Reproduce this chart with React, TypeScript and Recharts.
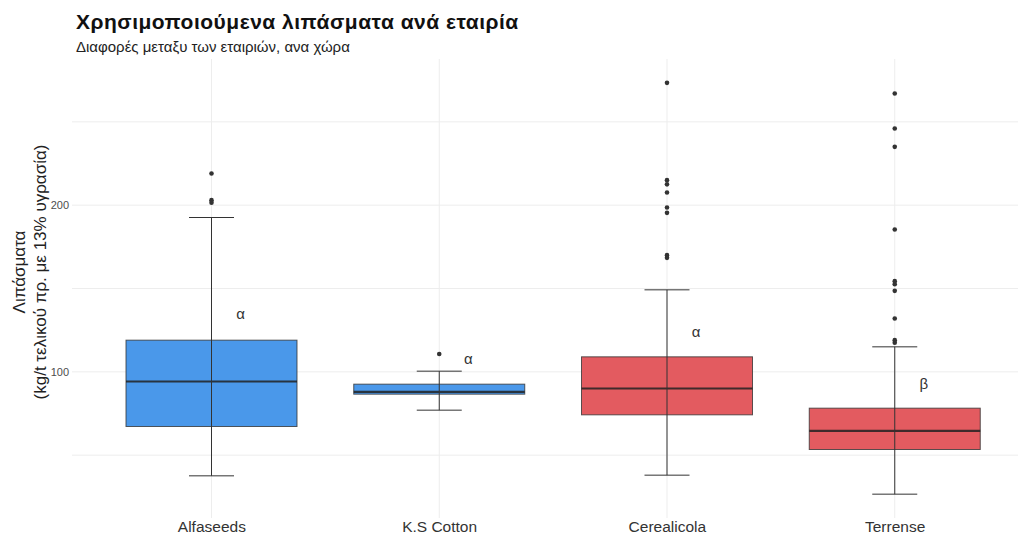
import { ComposedChart, Bar, XAxis, YAxis, CartesianGrid } from 'recharts';

// ---------------------------------------------------------------------------
// Data
// ---------------------------------------------------------------------------

const companies = ['Alfaseeds', 'K.S Cotton', 'Cerealicola', 'Terrense'];
const whiskerLow = [37.6, 77, 38, 26.6];
const q1 = [67.2, 86.6, 74.2, 53.4];
const median = [94.2, 88, 90, 64.6];
const q3 = [119, 92.6, 109, 78.2];
const whiskerHigh = [192.6, 100.4, 149.2, 115];
const outliers = [
  [219, 203, 201.5],
  [110.7],
  [273.4, 215, 212.5, 207.6, 198.6, 195.4, 170, 168.4],
  [267, 246, 235, 185.4, 154.4, 152.6, 148.6, 132, 119, 117.5],
];
const letters = ['α', 'α', 'α', 'β'];
const letterValue = [134.6, 108, 124, 93];
const boxFills = ['#4A98EA', '#4A98EA', '#E35B60', '#E35B60'];

const yTicks = [100, 200];
const gridValues = [50, 100, 150, 200, 250];

const FONT = '"Liberation Sans", Arial, Helvetica, sans-serif';

interface BoxDatum {
  company: string;
  range: [number, number];
  low: number;
  q1: number;
  median: number;
  q3: number;
  high: number;
  outliers: number[];
  letter: string;
  letterValue: number;
  fill: string;
}

const data: BoxDatum[] = companies.map((company, i) => ({
  company,
  range: [whiskerLow[i], whiskerHigh[i]],
  low: whiskerLow[i],
  q1: q1[i],
  median: median[i],
  q3: q3[i],
  high: whiskerHigh[i],
  outliers: outliers[i],
  letter: letters[i],
  letterValue: letterValue[i],
  fill: boxFills[i],
}));

// ---------------------------------------------------------------------------
// Shapes
// ---------------------------------------------------------------------------

// the bar spans low..high whisker; other values are mapped linearly
// from the bar geometry (which comes from the y scale)
function BoxShape(props: any) {
  const { x, y, width, height, payload } = props;
  const d = payload as BoxDatum;
  const py = (v: number) => y + (height * (d.high - v)) / (d.high - d.low);
  const cx = x + width / 2;
  const cap = 22.5;

  return (
    <g>
      <rect
        x={x}
        y={py(d.q3)}
        width={width}
        height={py(d.q1) - py(d.q3)}
        fill={d.fill}
        stroke="#333"
        strokeOpacity={0.8}
        strokeWidth={1}
      />
      <line x1={x} x2={x + width} y1={py(d.median)} y2={py(d.median)} stroke="#222" strokeOpacity={0.85} strokeWidth={2.2} />
      <line x1={cx} x2={cx} y1={py(d.high)} y2={py(d.low)} stroke="#333" strokeWidth={1} />
      <line x1={cx - cap} x2={cx + cap} y1={py(d.high)} y2={py(d.high)} stroke="#333" strokeWidth={1} />
      <line x1={cx - cap} x2={cx + cap} y1={py(d.low)} y2={py(d.low)} stroke="#333" strokeWidth={1} />
      {d.outliers.map((v, i) => (
        <circle key={i} cx={cx} cy={py(v)} r={2.3} fill="#333" />
      ))}
      <text
        x={cx + 29}
        y={py(d.letterValue)}
        dy="0.35em"
        textAnchor="middle"
        fontSize={15}
        fontFamily={FONT}
        fill="#333"
      >
        {d.letter}
      </text>
    </g>
  );
}

// vertical grid line through each category centre
function CenterLine(props: any) {
  const { x, y, width, height } = props;
  const cx = x + width / 2;
  return <line x1={cx} x2={cx} y1={y} y2={y + height} stroke="#EDEDED" strokeWidth={1} />;
}

function XTick(props: any) {
  const { x, y, payload } = props;
  return (
    <text x={x} y={y} dy="0.71em" textAnchor="middle" fontSize={15.5} fontFamily={FONT} fill="#333">
      {payload.value}
    </text>
  );
}

function YTick(props: any) {
  const { x, y, payload } = props;
  return (
    <text x={x} y={y} dy="0.355em" textAnchor="end" fontSize={11} fontFamily={FONT} fill="#4D4D4D">
      {payload.value}
    </text>
  );
}

// ---------------------------------------------------------------------------
// Component
// ---------------------------------------------------------------------------

export default function App() {
  return (
    <div style={{ position: 'absolute', left: 0, top: 0, width: 1018, height: 536, background: '#fff' }}>
      <ComposedChart
        width={1018}
        height={536}
        data={data}
        margin={{ top: 59, right: 0, bottom: 0, left: 0 }}
      >
        <CartesianGrid
          stroke="#EDEDED"
          strokeWidth={1}
          horizontalValues={gridValues}
          vertical={false}
        />
        <XAxis
          dataKey="company"
          type="category"
          height={18}
          padding={{ left: 26, right: 9 }}
          axisLine={false}
          tickLine={false}
          tickSize={0}
          tickMargin={3}
          interval={0}
          tick={<XTick />}
        />
        <YAxis
          type="number"
          width={72}
          domain={[12.3, 287.7]}
          allowDataOverflow
          ticks={yTicks}
          axisLine={false}
          tickLine={false}
          tickSize={0}
          tickMargin={3}
          tick={<YTick />}
        />
        <Bar
          dataKey="range"
          barSize={171}
          background={<CenterLine />}
          shape={<BoxShape />}
          isAnimationActive={false}
        />
      </ComposedChart>
      <svg
        width={1018}
        height={536}
        style={{ position: 'absolute', left: 0, top: 0, pointerEvents: 'none' }}
      >
        <text x={76} y={29} fontSize={21} fontWeight="bold" letterSpacing={0.5} fontFamily={FONT} fill="#111">
          Χρησιμοποιούμενα λιπάσματα ανά εταιρία
        </text>
        <text x={76} y={52} fontSize={15} fontFamily={FONT} fill="#222">
          Διαφορές μεταξυ των εταιριών, ανα χώρα
        </text>
        <text
          transform="translate(25,272) rotate(-90)"
          textAnchor="middle"
          fontSize={17}
          fontFamily={FONT}
          fill="#222"
        >
          Λιπάσματα
        </text>
        <text
          transform="translate(46,272) rotate(-90)"
          textAnchor="middle"
          fontSize={17}
          fontFamily={FONT}
          fill="#222"
        >
          (kg/t τελικού πρ. με 13% υγρασία)
        </text>
      </svg>
    </div>
  );
}
